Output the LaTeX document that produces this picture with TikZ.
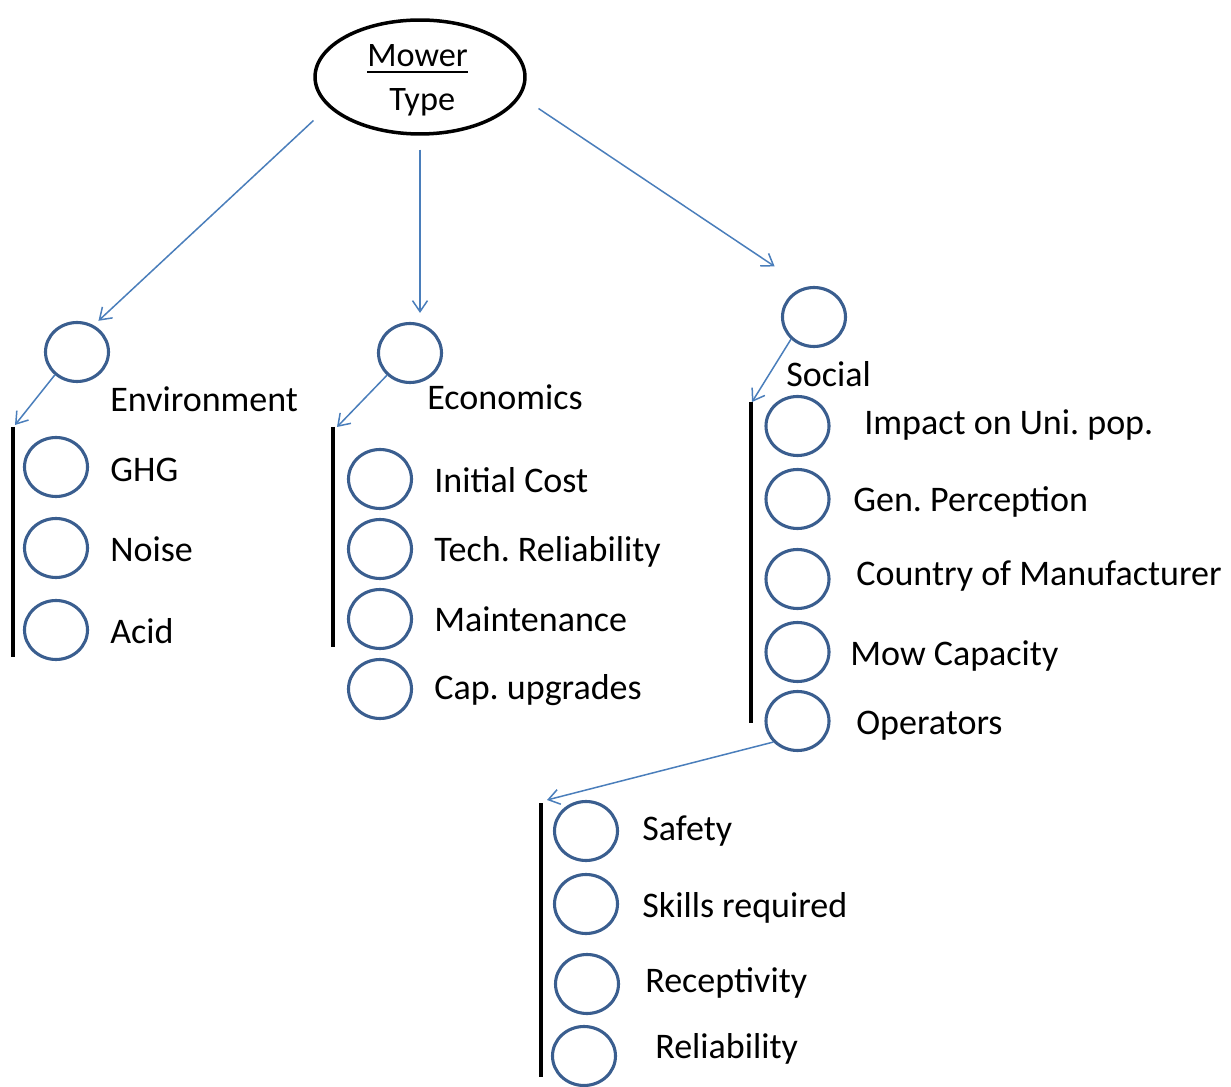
\documentclass[tikz,border=0pt]{standalone}
\usepackage{fontspec}
\setmainfont{Carlito}
\usetikzlibrary{arrows.meta,calc,shapes.geometric}
\definecolor{ringblue}{HTML}{3A5E8F}
\definecolor{linkblue}{HTML}{4A7EBB}
\frenchspacing

\begin{document}
\begin{tikzpicture}[x=0.02cm,y=-0.02cm,
  ring/.style={ellipse, draw=ringblue, line width=0.062cm,
    minimum width=1.26cm, minimum height=1.18cm, inner sep=0pt},
  root/.style={ellipse, draw=black, line width=0.07cm,
    minimum width=4.2cm, minimum height=2.28cm, inner sep=0pt},
  lbl/.style={anchor=base west, inner sep=0pt,
    font=\fontsize{20.5}{24}\selectfont},
  rootlbl/.style={anchor=base west, inner sep=0pt,
    font=\fontsize{19.5}{22}\selectfont},
  link/.style={draw=linkblue, line width=0.03cm,
    -{Straight Barb[length=0.22cm,width=0.3cm]}},
  bar/.style={draw=black, line width=0.07cm}]

\useasboundingbox (0,0) rectangle (1231,1087);

% root
\node[root] (mower) at (420,77) {};
\node[rootlbl] (mowerA) at (367,67) {Mower};
\node[rootlbl] (mowerB) at (389,111) {Type};
\draw[line width=0.055cm] ([yshift=-0.1cm]mowerA.base west) -- ([yshift=-0.1cm]mowerA.base east);

% environment branch
\node[ring] (env) at (77,352) {};
\node[lbl] (envT) at (110,412) {Environment};
\node[ring] (ghg) at (56,467) {};
\node[lbl] (ghgT) at (110,482) {GHG};
\node[ring] (noise) at (56,548) {};
\node[lbl] (noiseT) at (110,562) {Noise};
\node[ring] (acid) at (56,630) {};
\node[lbl] (acidT) at (110,643) {Acid};
\coordinate (envbarA) at (13,427);
\coordinate (envbarB) at (13,657);
\coordinate (envin) at (15,425);
\draw[bar] (envbarA) -- (envbarB);

% economics branch
\node[ring] (econ) at (410,353) {};
\node[lbl] (econT) at (427,410) {Economics};
\node[ring] (initc) at (380,479) {};
\node[lbl] (initcT) at (434,493) {Initial Cost};
\node[ring] (tech) at (380,549) {};
\node[lbl] (techT) at (434,562) {Tech. Reliability};
\node[ring] (maint) at (380,619) {};
\node[lbl] (maintT) at (434,632) {Maintenance};
\node[ring] (capu) at (380,689) {};
\node[lbl] (capuT) at (434,700) {Cap. upgrades};
\coordinate (econbarA) at (333,427);
\coordinate (econbarB) at (333,647);
\coordinate (econin) at (337,427);
\draw[bar] (econbarA) -- (econbarB);

% social branch
\node[ring] (soc) at (814,317) {};
\node[lbl] (socT) at (786,387) {Social};
\node[ring] (impact) at (797.5,426) {};
\node[lbl] (impactT) at (864,435) {Impact on Uni. pop.};
\node[ring] (genp) at (797.5,499) {};
\node[lbl] (genpT) at (853,512) {Gen. Perception};
\node[ring] (country) at (797.5,579) {};
\node[lbl] (countryT) at (856,586) {Country of Manufacturer};
\node[ring] (mowc) at (797.5,652) {};
\node[lbl] (mowcT) at (850,665) {Mow Capacity};
\node[ring] (oper) at (797.5,721) {};
\node[lbl] (operT) at (856,734) {Operators};
\coordinate (socbarA) at (751,402);
\coordinate (socbarB) at (751,723);
\coordinate (socin) at (752,402);
\draw[bar] (socbarA) -- (socbarB);

% operators sub-branch
\node[ring] (safety) at (586,831) {};
\node[lbl] (safetyT) at (642,840) {Safety};
\node[ring] (skills) at (586,904) {};
\node[lbl] (skillsT) at (642,917) {Skills required};
\node[ring] (recep) at (587,984) {};
\node[lbl] (recepT) at (645,992) {Receptivity};
\node[ring] (relia) at (584,1056) {};
\node[lbl] (reliaT) at (655,1058) {Reliability};
\coordinate (opbarA) at (541,803);
\coordinate (opbarB) at (541,1077);
\coordinate (opin) at (547,800);
\draw[bar] (opbarA) -- (opbarB);

% connectors
\draw[link, shorten <=0.4cm, shorten >=0.13cm] (mower.198) -- (env.58);
\draw[link, shorten <=0.28cm, shorten >=0.18cm] (mower.south) -- (mower.south |- econ.north);
\draw[link, shorten <=0.43cm, shorten >=0.74cm] (mower.-11) -- (soc.106);
\draw[link] (env.226) -- (envin);
\draw[link] (econ.224) -- (econin);
\draw[link] (soc.224) -- (socin);
\draw[link] (oper.221) -- (opin);

\end{tikzpicture}
\end{document}
